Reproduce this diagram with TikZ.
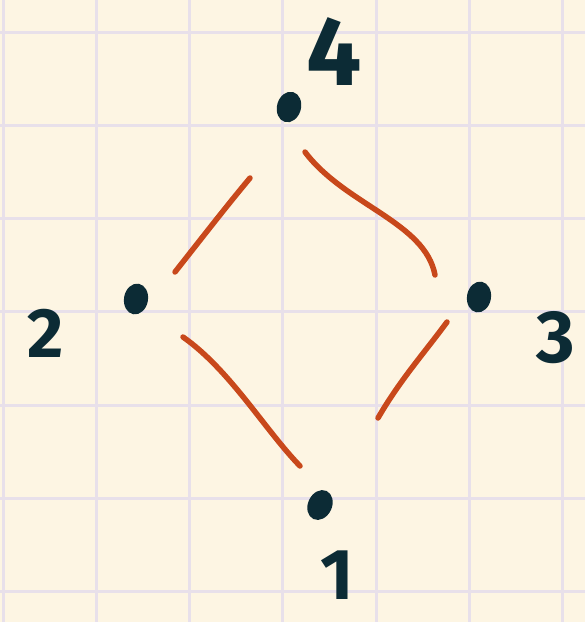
\documentclass[tikz,border=0pt]{standalone}
\usepackage{fontspec}
\setsansfont{Fira Sans}
\usepackage{xcolor}
\usetikzlibrary{shapes.geometric}

\definecolor{paper}{RGB}{253,245,227}
\definecolor{gridcol}{RGB}{232,224,234}
\definecolor{ink}{RGB}{12,43,53}
\definecolor{rust}{RGB}{200,72,27}

\tikzset{
  gridline/.style={gridcol, line width=3pt},
  dot/.style={ellipse, fill=ink, inner sep=0pt, minimum width=24pt, minimum height=31pt},
  digit/.style={ink, font=\sffamily\bfseries\fontsize{#1}{#1}\selectfont, inner sep=0pt},
  digit/.default=76,
  edge/.style={rust, line width=5.5pt, line cap=round}
}

\begin{document}
\begin{tikzpicture}[x=1pt,y=-1pt]
      \fill[paper] (0,0) rectangle (585,622);
      \useasboundingbox (0,0) rectangle (585,622);

      % squared paper
      \foreach \i in {0,...,6} {
        \draw[gridline] (3+93.3*\i,0) -- (3+93.3*\i,622);
        \draw[gridline] (0,32+93.3*\i) -- (585,32+93.3*\i);
      }

      % elements
      \node[dot, rotate=-15] (n4) at (289,107) {};
      \node[dot, rotate=-10] (n2) at (136,299) {};
      \node[dot, rotate=-10] (n3) at (479,297) {};
      \node[dot, rotate=-25] (n1) at (320,505) {};

      \node[digit=98] (l4) at (334,52) {4};
      \node[digit=70] (l2) at (46,333) {2};
      \node[digit=74] (l3) at (556,338) {3};
      \node[digit=72] (l1) at (337,575) {1};

      % cover relations
      \coordinate (a24) at (175,272);
      \coordinate (b24) at (250,178);
      \coordinate (a43) at (305,152);
      \coordinate (b43) at (435,275);
      \coordinate (a21) at (183,337);
      \coordinate (b21) at (300,466);
      \coordinate (a13) at (378,418);
      \coordinate (b13) at (447,322);

      \draw[edge] (a24) .. controls (205,234) and (225,208) .. (b24);
      \draw[edge] (a43) .. controls (345,205) and (425,222) .. (b43);
      \draw[edge] (a21) .. controls (230,370) and (265,430) .. (b21);
      \draw[edge] (a13) .. controls (400,380) and (425,352) .. (b13);
    \end{tikzpicture}
\end{document}
